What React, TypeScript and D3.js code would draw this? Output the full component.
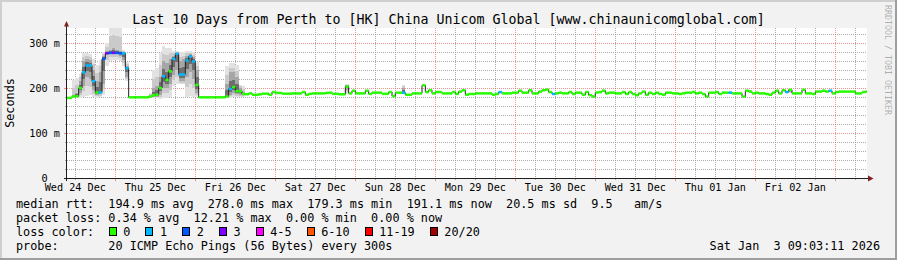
import React from "react";
import * as d3 from "d3";

const W = 897;
const H = 260;

// x-axis day labels (placed at noon of each day, hours since Wed 24 Dec 00:00)
const dayLabels = ["Wed 24 Dec", "Thu 25 Dec", "Fri 26 Dec", "Sat 27 Dec", "Sun 28 Dec", "Mon 29 Dec", "Tue 30 Dec", "Wed 31 Dec", "Thu 01 Jan", "Fri 02 Jan"];
const yTicks = [0, 100, 200, 300];

// hourly median RTT (ms); slot j covers hours 9+j .. 10+j after Wed 24 Dec 00:00
const medianRtt = [
  178, 178, 181.5, 181.5, 200, 235, 250, 250, 215, 190,
  190, 265, 277, 278, 278, 278, 277, 277, 244, 179.3,
  179.3, 179.3, 179.3, 179.3, 179.3, 181, 184, 185, 200, 226,
  218, 237, 265, 276, 230, 230, 261, 270, 259, 207,
  179.3, 179.3, 179.3, 179.3, 179.3, 179.3, 179.3, 179.3, 181, 198,
  202, 193, 193, 187, 186, 188, 185, 185, 186, 187.4,
  187.4, 185, 191, 189, 189, 187.4, 187.4, 187.4, 188, 188,
  188, 191, 185, 187, 188, 188, 188, 188, 189, 189.6,
  187, 187, 186, 186, 203, 188, 194, 188, 188, 188,
  194, 187, 189.6, 189.6, 189.6, 187, 187, 191, 182, 189.6,
  189.6, 189.6, 185, 185, 188, 188, 188, 206, 191, 195,
  188, 191, 191, 188, 188, 188, 191, 186.7, 192, 195,
  185, 186.7, 186.7, 188, 188, 188, 188, 188, 185, 186.7,
  191, 188, 188, 188, 189.6, 189.6, 194, 189.6, 189.6, 195,
  188, 188, 192, 195, 196.5, 191, 186.7, 188, 189.6, 188,
  188, 191, 186.7, 189.6, 189.6, 185, 191, 184, 181, 190,
  191, 194, 188, 189.6, 189.6, 188, 188, 191, 186.7, 191,
  186.7, 184, 188, 192, 185, 189.6, 186.7, 189.6, 186.7, 185,
  189.6, 189.6, 188, 188, 186.7, 188, 189.6, 189.6, 191, 188,
  189.6, 186.7, 181, 189.6, 189.6, 191, 186.7, 189.6, 189.6, 189.6,
  188, 188, 188, 181, 194, 192, 188, 189.6, 188, 188,
  186.7, 185, 189.6, 194, 188, 195, 191, 196, 188, 188,
  188, 196, 188, 188, 186.7, 192, 192, 194, 192, 194,
  188, 191, 192, 192, 192, 192, 192, 188, 188, 191,
  192,
];

// slots with packet loss and the number of lost pings (of 20)
const lossSlot = [5, 6, 7, 8, 10, 11, 12, 13, 14, 15, 16, 17, 18, 29, 32, 33, 34, 35, 36, 37, 38, 49, 101, 130, 146, 199, 216, 229];
const lossPings = [1, 1, 1, 1, 1, 2, 3, 2, 3, 2, 2, 1, 1, 1, 1, 1, 1, 1, 1, 1, 1, 1, 1, 1, 1, 1, 1, 1];

// smoke (ping spread): [slot, min, q1, q3, max] in ms
const smoke = [
  [2, 179, 180, 184, 218], [3, 179, 180, 190, 222], [4, 178, 190, 215, 232],
  [5, 180, 205, 260, 278], [6, 182, 225, 265, 278], [7, 184, 220, 262, 276],
  [8, 180, 195, 240, 265], [9, 178, 185, 215, 252], [10, 180, 186, 235, 262],
  [11, 185, 210, 272, 280], [12, 250, 275, 282, 300], [13, 260, 276, 285, 345],
  [14, 262, 276, 290, 345], [15, 262, 276, 285, 345], [16, 260, 272, 282, 345],
  [17, 250, 262, 280, 285], [18, 215, 225, 250, 258],
  [25, 178, 179, 183, 190], [26, 178, 180, 200, 240], [27, 178, 181, 205, 245],
  [28, 175, 185, 225, 277], [29, 178, 200, 260, 293], [30, 178, 200, 255, 290],
  [31, 180, 210, 265, 290], [32, 205, 230, 272, 282], [33, 210, 240, 278, 282],
  [34, 208, 215, 260, 279], [35, 208, 215, 265, 279], [36, 180, 225, 272, 282],
  [37, 182, 235, 275, 282], [38, 180, 220, 268, 280], [39, 180, 190, 240, 257],
  [48, 178, 180, 210, 249], [49, 178, 185, 235, 255], [50, 180, 188, 235, 255],
  [51, 180, 186, 225, 252], [52, 180, 185, 200, 207], [53, 181, 184, 192, 205],
  [84, 186, 195, 206, 209], [101, 186, 189, 200, 207], [199, 188, 189, 191, 193],
  [205, 190, 191, 194, 196], [217, 190, 192, 196, 197], [227, 191, 192, 195, 196],
];

const lossLabels = ["0", "1", "2", "3", "4-5", "6-10", "11-19", "20/20"];
const lossUpper = [0, 1, 2, 3, 5, 10, 19, 20];
const lossColors = ["#26ff00", "#00b8ff", "#0059ff", "#7e00ff", "#ff00ff", "#ff5500", "#ff0000", "#a10000"];

const legendRtt = "median rtt:  194.9 ms avg  278.0 ms max  179.3 ms min  191.1 ms now  20.5 ms sd  9.5   am/s";
const legendLoss = "packet loss: 0.34 % avg  12.21 % max  0.00 % min  0.00 % now";
const legendProbe = "probe:       20 ICMP Echo Pings (56 Bytes) every 300s";
const title = "Last 10 Days from Perth to [HK] China Unicom Global [www.chinaunicomglobal.com]";
const stamp = "Sat Jan  3 09:03:11 2026";

const FONT = "'DejaVu Sans Mono', monospace";
const X0 = 67, X1 = 867, Y0 = 178, Y1 = 28;
const SLOT0 = 9; // first slot starts at hour 9

// keep runs of spaces visible in SVG text
const keep = (s: string) => s.replace(/ /g, "\u00a0");

export default function App() {
  const x = d3.scaleLinear().domain([9.5, 249.5]).range([X0, X1]);
  const y = d3.scaleLinear().domain([0, 1000 / 3]).range([Y0, Y1]);

  const lossBySlot = new Map<number, number>();
  lossSlot.forEach((s, i) => lossBySlot.set(s, lossPings[i]));
  const lossColor = (p: number) => lossColors[lossUpper.findIndex((u) => p <= u)];

  const minorV: number[] = [];
  const majorV: number[] = [];
  for (let h = 12; h <= 249.5; h += 6) (h % 24 === 0 ? majorV : minorV).push(h);
  const minorH: number[] = [];
  const majorH: number[] = [];
  for (let v = 20; v <= 330; v += 20) (v % 100 === 0 ? majorH : minorH).push(v);

  const pts: [number, number][] = medianRtt.map((m, j) => [SLOT0 + j, m]);
  pts.push([SLOT0 + medianRtt.length, medianRtt[medianRtt.length - 1]]);
  const medLine = d3.line<[number, number]>().x((d) => x(d[0])).y((d) => y(d[1])).curve(d3.curveStepAfter)(pts) || "";

  const smokeGreys = ["#e2e2e2", "#cacaca", "#a6a6a6", "#6e6e6e"];

  const charW = 11.8 * 0.602;
  const legendX = 16;
  const boxes: { bx: number; lx: number; label: string; color: string }[] = [];
  let cur = 13.06;
  lossLabels.forEach((lab, i) => {
    const lc = cur + 2.05;
    boxes.push({ bx: legendX + cur * charW, lx: legendX + lc * charW, label: lab, color: lossColors[i] });
    cur = lc + lab.length + 2.12;
  });

  return (
    <svg width={W} height={H} style={{ position: "absolute", left: 0, top: 0 }} fontFamily={FONT}>
      <rect x={0} y={0} width={W} height={H} fill="#f2f2f2" />
      {/* frame shading */}
      <rect x={0} y={0} width={W} height={2} fill="#cfcfcf" />
      <rect x={0} y={0} width={2} height={H} fill="#cfcfcf" />
      <rect x={0} y={H - 2} width={W} height={2} fill="#9e9e9e" />
      <rect x={W - 2} y={0} width={2} height={H} fill="#9e9e9e" />

      <rect x={X0} y={Y1} width={X1 - X0} height={Y0 - Y1} fill="#ffffff" />

      <defs>
        <clipPath id="plot">
          <rect x={X0} y={Y1} width={X1 - X0} height={Y0 - Y1} />
        </clipPath>
      </defs>

      {/* grid */}
      <g shapeRendering="crispEdges">
        {minorV.map((h) => (
          <g key={"mv" + h}>
            <line x1={Math.round(x(h)) + 0.5} x2={Math.round(x(h)) + 0.5} y1={Y1} y2={Y0} stroke="rgba(143,143,143,0.75)" strokeDasharray="1,1" />
            <line x1={Math.round(x(h)) + 0.5} x2={Math.round(x(h)) + 0.5} y1={Y0} y2={Y0 + 2} stroke="rgba(143,143,143,0.75)" />
          </g>
        ))}
        {minorH.map((v) => (
          <g key={"mh" + v}>
            <line x1={X0} x2={X1} y1={Math.round(y(v)) + 0.5} y2={Math.round(y(v)) + 0.5} stroke="rgba(143,143,143,0.75)" strokeDasharray="1,1" />
            <line x1={X0 - 2} x2={X0} y1={Math.round(y(v)) + 0.5} y2={Math.round(y(v)) + 0.5} stroke="rgba(143,143,143,0.75)" />
          </g>
        ))}
        {majorV.map((h) => (
          <g key={"Mv" + h}>
            <line x1={Math.round(x(h)) + 0.5} x2={Math.round(x(h)) + 0.5} y1={Y1} y2={Y0} stroke="rgba(222,79,79,0.6)" strokeDasharray="1,1" />
            <line x1={Math.round(x(h)) + 0.5} x2={Math.round(x(h)) + 0.5} y1={Y0} y2={Y0 + 3} stroke="rgba(222,79,79,0.6)" />
          </g>
        ))}
        {majorH.map((v) => (
          <g key={"Mh" + v}>
            <line x1={X0} x2={X1} y1={Math.round(y(v)) + 0.5} y2={Math.round(y(v)) + 0.5} stroke="rgba(222,79,79,0.6)" strokeDasharray="1,1" />
            <line x1={X0 - 3} x2={X0} y1={Math.round(y(v)) + 0.5} y2={Math.round(y(v)) + 0.5} stroke="rgba(222,79,79,0.6)" />
          </g>
        ))}
      </g>

      <g clipPath="url(#plot)">
        {/* smoke */}
        {smoke.map(([s, mn, q1, q3, mx]) => {
          const xa = x(SLOT0 + s);
          const xb = x(SLOT0 + s + 1);
          const med = medianRtt[s];
          const bands: [number, number][] = [
            [mn, mx],
            [(mn + q1) / 2, (q3 + mx) / 2],
            [q1, q3],
            [(q1 + Math.min(med, q3)) / 2, (Math.max(med, q1) + q3) / 2],
          ];
          return (
            <g key={"s" + s} shapeRendering="crispEdges">
              {bands.map(([lo, hi], k) => (
                <rect key={k} x={xa} width={xb - xa} y={y(hi)} height={Math.max(0, y(lo) - y(hi))} fill={smokeGreys[k]} />
              ))}
            </g>
          );
        })}
        {/* median line */}
        <path d={medLine} fill="none" stroke="#202020" strokeWidth={1} />
        {/* loss-coloured median bands */}
        {medianRtt.map((m, j) => (
          <rect
            key={"b" + j}
            x={x(SLOT0 + j)}
            width={x(SLOT0 + j + 1) - x(SLOT0 + j)}
            y={y(m) - 1.25}
            height={2.5}
            fill={lossColor(lossBySlot.get(j) ?? 0)}
          />
        ))}
      </g>

      {/* axes */}
      <line x1={X0 - 3} x2={X1 + 3} y1={Y0 + 0.5} y2={Y0 + 0.5} stroke="#1f1f1f" shapeRendering="crispEdges" />
      <line x1={X0 - 0.5} x2={X0 - 0.5} y1={Y0 + 3} y2={Y1 - 3} stroke="#1f1f1f" shapeRendering="crispEdges" />
      <polygon points={`${X1 + 1},${Y0 - 2.5} ${X1 + 6.5},${Y0 + 0.5} ${X1 + 1},${Y0 + 3.5}`} fill="#801f1f" />
      <polygon points={`${X0 - 3},${Y1 - 1.5} ${X0 - 0.5},${Y1 - 7} ${X0 + 2},${Y1 - 1.5}`} fill="#801f1f" />

      {/* y tick labels */}
      {yTicks.map((v) => (
        <text key={"yl" + v} x={60} y={y(v) + 3.6} fontSize={10.2} textAnchor="end" fill="#000">
          {keep(v === 0 ? "0  " : `${v} m`)}
        </text>
      ))}

      {/* x tick labels */}
      {dayLabels.map((d, i) => (
        <text key={d} x={x(12 + 24 * i)} y={191} fontSize={10.2} textAnchor="middle" fill="#000">
          {d}
        </text>
      ))}

      {/* title */}
      <text x={448.5} y={23.5} fontSize={13.3} textAnchor="middle" fill="#000">
        {title}
      </text>

      {/* y unit label */}
      <text transform={`translate(14,${(Y0 + Y1) / 2}) rotate(-90)`} fontSize={11.8} textAnchor="middle" fill="#000">
        Seconds
      </text>

      {/* watermark */}
      <text transform="translate(884.5,5) rotate(90)" fontSize={8.3} fill="#000" fillOpacity={0.3}>
        RRDTOOL / TOBI OETIKER
      </text>

      {/* legend */}
      <g fontSize={11.8} fill="#000">
        <text x={legendX} y={207.5}>{keep(legendRtt)}</text>
        <text x={legendX} y={221.5}>{keep(legendLoss)}</text>
        <text x={legendX} y={235.5}>{keep("loss color:")}</text>
        {boxes.map((b) => (
          <g key={b.label}>
            <rect x={Math.round(b.bx) + 0.5} y={227.5} width={7} height={8} fill={b.color} stroke="#000" strokeWidth={1} shapeRendering="crispEdges" />
            <text x={b.lx} y={235.5}>{b.label}</text>
          </g>
        ))}
        <text x={legendX} y={249.5}>{keep(legendProbe)}</text>
        <text x={880} y={249.5} textAnchor="end">{keep(stamp)}</text>
      </g>
    </svg>
  );
}
